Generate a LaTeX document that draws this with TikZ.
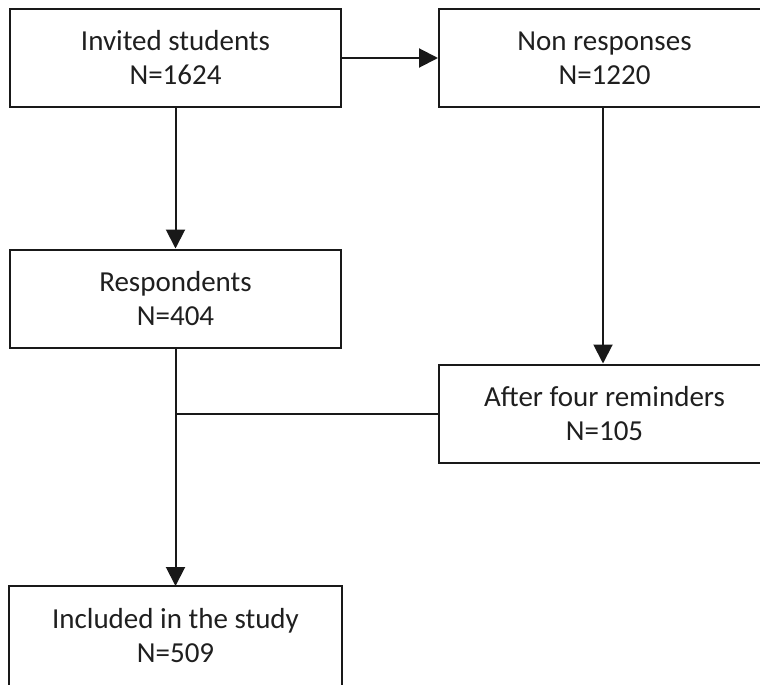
\documentclass[tikz,border=0pt]{standalone}
\usepackage{fontspec}
\setmainfont{Carlito}
\usetikzlibrary{arrows.meta}
\tikzset{
  box/.style={draw=black!90, line width=2pt, minimum width=331pt, minimum height=98pt,
    inner sep=0pt, align=center, text=black!88, font=\fontsize{29}{34}\selectfont},
  openbox/.style={box, draw=none},
  conn/.style={line width=2pt, draw=black!90},
  arr/.style={conn, -{Triangle[width=19pt,length=19pt]}}
}
\begin{document}
\begin{tikzpicture}[x=1pt,y=-1pt]
\useasboundingbox (0,0) rectangle (760,685);
\clip (0,0) rectangle (760,685);
\node[box] (n1) at (175.5,58) {Invited students\\N=1624};
\node[box] (n2) at (604.5,58) {Non responses\\N=1220};
\node[box] (n3) at (175.5,298.5) {Respondents\\N=404};
\node[box] (n4) at (604.5,413.5) {After four reminders\\N=105};
\node[openbox] (n5) at (175.5,636) {Included in the study\\N=509};
\draw[conn] ([yshift=-30pt]n5.south west) -- (n5.north west) -- (n5.north east) -- ([yshift=-30pt]n5.south east);
\draw[arr] (n1.east) -- (n2.west);
\draw[arr] (n1.south) -- (n3.north);
\draw[arr] (n2.south -| 603,0) -- (n4.north -| 603,0);
\draw[arr] (n3.south) -- (n5.north);
\coordinate (j) at (n4.west -| n3.south);
\draw[conn] (n4.west) -- (j);
\end{tikzpicture}
\end{document}
